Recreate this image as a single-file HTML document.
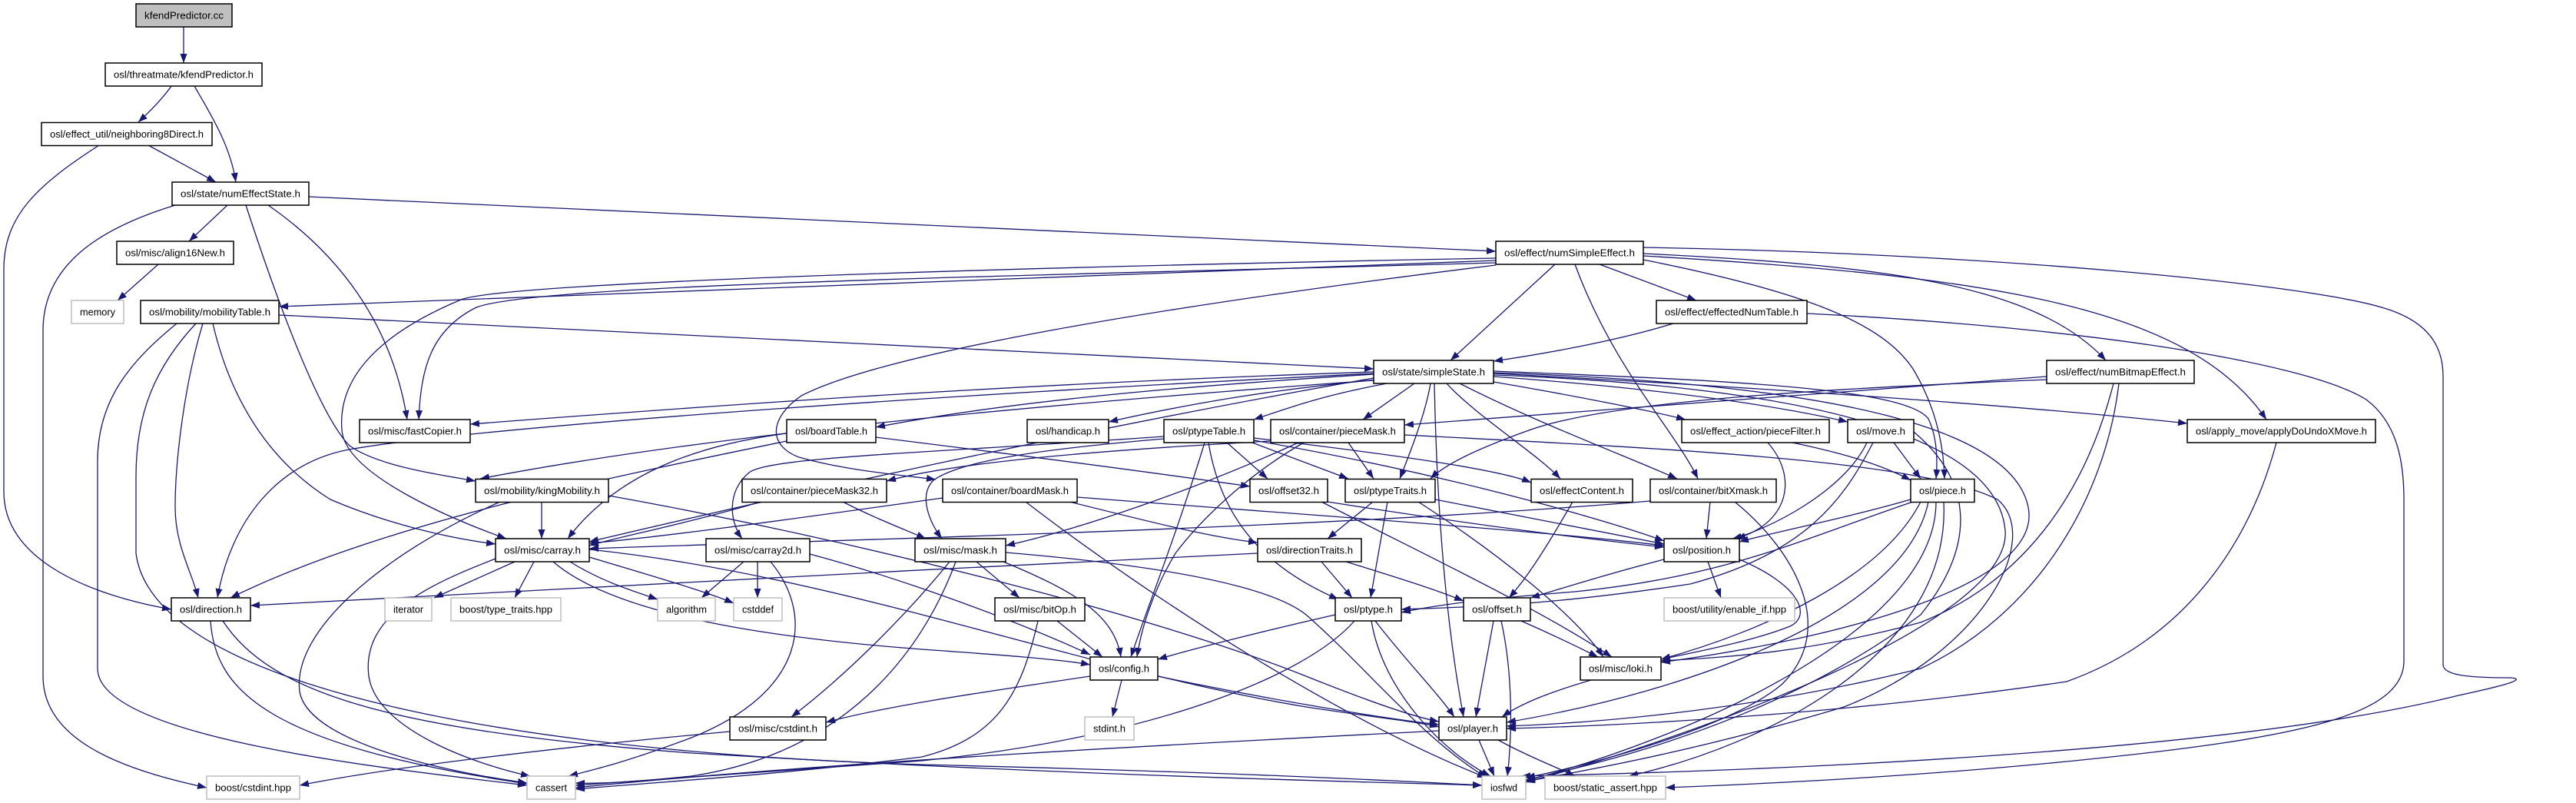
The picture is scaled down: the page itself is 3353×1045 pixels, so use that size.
<!DOCTYPE html>
<html><head><meta charset="utf-8"><style>
html,body{margin:0;padding:0;background:#fff;}
svg{display:block}
.e path{fill:none;stroke:#191970;stroke-width:1.3;marker-end:url(#a)}
.n rect{fill:#fff;stroke:#000;stroke-width:1.5}
.n rect.g{stroke:#bfbfbf}
.n rect.f{fill:#bfbfbf}
.n text{font-family:"Liberation Sans",Arial,sans-serif;font-size:13px;fill:#000;text-anchor:middle}
</style></head><body>
<svg width="3353" height="1045" viewBox="0 0 3353 1045" xmlns="http://www.w3.org/2000/svg">
<defs><marker id="a" viewBox="0 0 12 9" markerWidth="12" markerHeight="9" refX="12" refY="4.5" orient="auto" markerUnits="userSpaceOnUse"><path d="M0,0L12,4.5L0,9z" fill="#191970"/></marker></defs>
<rect width="3353" height="1045" fill="#fff"/>
<g class="e">
<path d="M239,35 L239,82"/>
<path d="M223,112 C212,128 195,145 180,159"/>
<path d="M253,112 C275,150 300,190 307,237"/>
<path d="M193,189 L281,237"/>
<path d="M129,189 C50,240 5,280 5,350 L5,640 C5,730 120,775 223,793"/>
<path d="M402,256 C900,280 1500,305 1947,327"/>
<path d="M296,267 L246,314"/>
<path d="M228,267 C120,300 56,350 56,430 L56,880 C56,960 150,1000 269,1025"/>
<path d="M349,267 C440,330 510,420 530,546"/>
<path d="M320,267 C370,420 420,545 455,580 C490,605 560,616 619,626"/>
<path d="M206,344 L153,391"/>
<path d="M1947,339 C1300,360 700,385 363,399"/>
<path d="M1947,342 C1300,360 700,370 620,400 C560,430 548,480 545,546"/>
<path d="M1947,336 C1200,350 650,370 600,390 C480,440 440,500 445,560 C450,620 600,680 659,701"/>
<path d="M1947,345 C1500,400 1150,460 1043,515 C1000,545 1000,580 1040,595 C1100,612 1170,618 1218,624"/>
<path d="M363,410 L1788,480"/>
<path d="M230,421 C170,470 127,520 127,600 L127,870 C127,960 500,1000 686,1022"/>
<path d="M255,421 C200,480 177,540 177,620 L177,720 C200,900 700,980 1200,995 C1600,1005 1800,1015 1929,1022"/>
<path d="M264,421 C240,500 228,600 228,660 C228,710 250,745 258,778"/>
<path d="M277,421 C300,520 350,600 430,650 C500,680 580,700 645,708"/>
<path d="M1788,484 C1300,500 900,530 612,552"/>
<path d="M1788,487 C1500,505 1300,525 1140,556"/>
<path d="M1792,494 C1650,508 1550,525 1443,549"/>
<path d="M1805,499 C1720,515 1680,530 1632,546"/>
<path d="M1841,499 L1774,546"/>
<path d="M1862,499 C1855,540 1835,590 1822,623"/>
<path d="M1867,499 C1870,650 1880,800 1905,933"/>
<path d="M1883,499 C1920,540 2000,590 2031,623"/>
<path d="M1900,499 C2000,550 2120,595 2183,623"/>
<path d="M1944,497 C2050,515 2150,535 2194,546"/>
<path d="M1944,490 C2150,505 2300,525 2405,549"/>
<path d="M1944,486 C2400,510 2700,535 2847,551"/>
<path d="M1944,483 C2250,495 2480,505 2510,545 C2522,570 2522,600 2520,623"/>
<path d="M1944,485 C2400,500 2620,560 2640,660 C2660,760 2400,830 2162,862"/>
<path d="M1944,488 C2400,505 2600,580 2610,690 C2620,810 2200,960 1986,1018"/>
<path d="M1788,492 C1400,560 1000,650 767,705"/>
<path d="M1788,486 C1100,520 600,560 460,584 C360,600 300,680 283,778"/>
<path d="M1788,495 C1300,530 900,570 625,623"/>
<path d="M2024,344 L1888,469"/>
<path d="M2082,344 L2208,391"/>
<path d="M2050,344 C2100,480 2180,560 2210,623"/>
<path d="M2139,330 C2450,345 2650,370 2741,469"/>
<path d="M2139,333 C2600,360 2850,400 2950,546"/>
<path d="M2139,322 C2600,330 3000,370 3100,400 C3170,420 3180,460 3180,490 L3180,865 C3180,880 3220,882 3268,882 C3290,884 3260,892 3200,905 C2900,980 2300,1003 1980,1010"/>
<path d="M2139,338 C2350,380 2450,420 2490,480 C2520,530 2530,580 2531,623"/>
<path d="M2178,421 C2100,445 2000,462 1944,470"/>
<path d="M2352,408 C2700,425 3000,470 3080,520 C3120,550 3129,600 3129,650 L3129,860 C3129,930 3000,960 2700,990 C2500,1010 2300,1020 2168,1025"/>
<path d="M2664,490 C2300,520 2000,540 1828,553"/>
<path d="M2664,494 C2400,505 2100,520 1990,560 C1920,585 1880,605 1862,623"/>
<path d="M2751,499 C2720,620 2650,750 2500,810 C2350,850 2250,855 2162,860"/>
<path d="M2758,499 C2740,650 2650,800 2500,870 C2300,920 2100,940 1961,945"/>
<path d="M2963,576 C2930,700 2850,830 2690,887 C2400,930 2100,945 1961,948"/>
<path d="M2333,576 C2400,590 2450,605 2487,625"/>
<path d="M2301,576 C2340,620 2330,680 2260,701"/>
<path d="M2465,576 L2500,623"/>
<path d="M2430,576 C2400,640 2300,690 2255,701"/>
<path d="M2438,576 C2400,650 2350,720 2200,760 C2000,790 1900,790 1824,793"/>
<path d="M2491,562 C2560,620 2580,700 2500,800 C2300,950 2050,1000 1986,1015"/>
<path d="M2487,650 C2400,675 2320,690 2264,705"/>
<path d="M2490,653 C2350,700 2250,750 2050,770 C1950,778 1880,785 1824,797"/>
<path d="M2500,653 C2450,750 2300,820 2162,858"/>
<path d="M2510,653 C2480,800 2200,900 1961,940"/>
<path d="M2520,653 C2520,820 2200,960 1986,1016"/>
<path d="M2530,653 C2540,850 2300,970 2120,1010"/>
<path d="M2226,653 L2221,701"/>
<path d="M2258,653 C2340,720 2390,820 2320,890 C2250,950 2050,1000 1986,1012"/>
<path d="M2148,652 C1700,690 1000,705 767,714"/>
<path d="M2047,653 C2020,700 1990,750 1964,778"/>
<path d="M1787,653 L1728,701"/>
<path d="M1806,653 L1784,778"/>
<path d="M1846,653 C1950,720 2050,800 2087,855"/>
<path d="M1868,650 C2000,675 2100,695 2166,708"/>
<path d="M1728,653 C1900,680 2050,700 2166,712"/>
<path d="M1720,653 C1850,720 2000,790 2098,855"/>
<path d="M1720,731 L1760,778"/>
<path d="M1752,731 C1830,755 1870,768 1905,782"/>
<path d="M1637,720 C1200,740 700,770 326,788"/>
<path d="M2166,728 C2080,750 2020,770 1992,778"/>
<path d="M2223,731 L2240,778"/>
<path d="M2264,728 C2340,760 2360,800 2330,815 C2280,835 2200,850 2162,858"/>
<path d="M1738,800 C1650,820 1550,845 1507,858"/>
<path d="M1763,808 C1700,880 1500,960 1200,990 C1000,1005 850,1015 749,1022"/>
<path d="M1785,808 C1800,900 1880,980 1940,1010"/>
<path d="M1790,808 C1830,860 1870,900 1893,933"/>
<path d="M1944,808 L1921,933"/>
<path d="M1954,808 C1970,880 1968,960 1962,1010"/>
<path d="M1980,808 C2030,830 2060,845 2080,855"/>
<path d="M2071,885 C2020,900 1980,915 1955,933"/>
<path d="M1873,951 C1600,965 1100,990 749,1025"/>
<path d="M1925,963 L1945,1010"/>
<path d="M1950,963 C1990,985 2030,1000 2050,1010"/>
<path d="M1419,880 C1250,905 1150,920 1075,940"/>
<path d="M1460,885 L1448,933"/>
<path d="M1507,880 C1650,910 1800,935 1873,943"/>
<path d="M950,952 C700,975 500,1000 390,1022"/>
<path d="M1376,808 L1435,855"/>
<path d="M1351,808 C1330,900 1300,960 1200,985 C1000,1010 850,1018 749,1027"/>
<path d="M1271,731 L1327,778"/>
<path d="M1306,731 C1400,770 1450,800 1459,855"/>
<path d="M1236,731 C1180,800 1100,880 1030,933"/>
<path d="M1244,731 C1200,850 1100,980 900,1010 C820,1018 780,1020 749,1019"/>
<path d="M1309,719 C1500,735 1650,760 1700,800 C1780,870 1850,960 1935,1012"/>
<path d="M968,731 L913,778"/>
<path d="M986,731 L986,778"/>
<path d="M1003,731 C1060,800 1050,900 900,960 C820,990 780,1000 740,1010"/>
<path d="M1054,721 C1200,760 1350,820 1419,852"/>
<path d="M670,731 L565,778"/>
<path d="M695,731 L670,778"/>
<path d="M742,731 C780,755 820,768 856,780"/>
<path d="M767,725 C850,750 920,770 955,785"/>
<path d="M720,731 C800,800 1000,830 1200,845 C1300,852 1380,858 1419,865"/>
<path d="M645,727 C560,760 470,800 480,880 C490,950 620,995 690,1010"/>
<path d="M767,715 C1100,750 1400,870 1700,920 C1800,935 1850,940 1873,946"/>
<path d="M705,653 L705,701"/>
<path d="M651,653 C500,720 380,820 390,900 C400,960 550,1000 686,1019"/>
<path d="M792,645 C1100,700 1500,800 1700,880 C1800,920 1850,935 1873,939"/>
<path d="M990,653 C900,680 800,700 767,710"/>
<path d="M1097,653 C1140,675 1180,690 1205,701"/>
<path d="M1227,648 C1000,680 850,700 767,707"/>
<path d="M1392,653 C1500,680 1580,700 1637,706"/>
<path d="M1402,647 C1700,670 2000,690 2166,710"/>
<path d="M1335,653 C1500,780 1750,940 1935,1012"/>
<path d="M1140,569 C1350,595 1500,615 1627,633"/>
<path d="M1024,564 C900,580 800,620 739,701"/>
<path d="M1024,574 C800,620 500,680 300,778"/>
<path d="M1597,576 L1650,623"/>
<path d="M1630,576 C1680,595 1720,610 1755,623"/>
<path d="M1568,576 C1530,700 1490,800 1472,855"/>
<path d="M1573,576 C1590,680 1650,740 1742,780"/>
<path d="M1515,568 C1200,590 1000,595 975,615 C945,640 950,680 966,701"/>
<path d="M1515,571 C1350,585 1250,600 1215,625 C1195,645 1210,680 1226,701"/>
<path d="M1632,570 C1800,590 1950,610 1993,628"/>
<path d="M1632,573 C1900,620 2100,680 2166,704"/>
<path d="M1654,574 C1450,585 1250,600 1154,626"/>
<path d="M1755,576 L1788,623"/>
<path d="M1690,576 C1550,640 1400,690 1309,710"/>
<path d="M1697,576 C1620,620 1560,680 1530,720 C1500,770 1485,820 1480,855"/>
<path d="M1828,566 C2200,585 2500,600 2600,650 C2660,700 2580,850 2400,920 C2200,980 2050,1005 1986,1017"/>
<path d="M274,808 C280,900 350,970 686,1020"/>
<path d="M290,808 C350,900 500,950 900,980 C1400,1010 1800,1018 1929,1022"/>
</g>
<g class="n">
<rect class="f" x="177" y="5" width="125" height="30"/><text x="239.5" y="24.5" textLength="103" lengthAdjust="spacingAndGlyphs">kfendPredictor.cc</text>
<rect x="137" y="82" width="204" height="30"/><text x="239" y="101.5" textLength="182" lengthAdjust="spacingAndGlyphs">osl/threatmate/kfendPredictor.h</text>
<rect x="54" y="159.5" width="222" height="30"/><text x="165" y="179" textLength="200" lengthAdjust="spacingAndGlyphs">osl/effect_util/neighboring8Direct.h</text>
<rect x="224" y="237" width="178" height="30"/><text x="313" y="256.5" textLength="156" lengthAdjust="spacingAndGlyphs">osl/state/numEffectState.h</text>
<rect x="152" y="314" width="152" height="30"/><text x="228" y="333.5" textLength="130" lengthAdjust="spacingAndGlyphs">osl/misc/align16New.h</text>
<rect x="1947" y="314" width="192" height="30"/><text x="2043" y="333.5" textLength="170" lengthAdjust="spacingAndGlyphs">osl/effect/numSimpleEffect.h</text>
<rect class="g" x="93" y="391" width="68" height="30"/><text x="127" y="410.5" textLength="46" lengthAdjust="spacingAndGlyphs">memory</text>
<rect x="183" y="391" width="180" height="30"/><text x="273" y="410.5" textLength="158" lengthAdjust="spacingAndGlyphs">osl/mobility/mobilityTable.h</text>
<rect x="2156" y="391" width="196" height="30"/><text x="2254" y="410.5" textLength="174" lengthAdjust="spacingAndGlyphs">osl/effect/effectedNumTable.h</text>
<rect x="1788" y="469" width="156" height="30"/><text x="1866" y="488.5" textLength="134" lengthAdjust="spacingAndGlyphs">osl/state/simpleState.h</text>
<rect x="2664" y="469" width="192" height="30"/><text x="2760" y="488.5" textLength="170" lengthAdjust="spacingAndGlyphs">osl/effect/numBitmapEffect.h</text>
<rect x="468" y="546" width="144" height="30"/><text x="540" y="565.5" textLength="122" lengthAdjust="spacingAndGlyphs">osl/misc/fastCopier.h</text>
<rect x="1024" y="546" width="116" height="30"/><text x="1082" y="565.5" textLength="94" lengthAdjust="spacingAndGlyphs">osl/boardTable.h</text>
<rect x="1337" y="546" width="106" height="30"/><text x="1390" y="565.5" textLength="84" lengthAdjust="spacingAndGlyphs">osl/handicap.h</text>
<rect x="1515" y="546" width="117" height="30"/><text x="1573.5" y="565.5" textLength="95" lengthAdjust="spacingAndGlyphs">osl/ptypeTable.h</text>
<rect x="1654" y="546" width="174" height="30"/><text x="1741" y="565.5" textLength="152" lengthAdjust="spacingAndGlyphs">osl/container/pieceMask.h</text>
<rect x="2189" y="546" width="192" height="30"/><text x="2285" y="565.5" textLength="170" lengthAdjust="spacingAndGlyphs">osl/effect_action/pieceFilter.h</text>
<rect x="2405" y="546" width="86" height="30"/><text x="2448" y="565.5" textLength="64" lengthAdjust="spacingAndGlyphs">osl/move.h</text>
<rect x="2847" y="546" width="245" height="30"/><text x="2969.5" y="565.5" textLength="223" lengthAdjust="spacingAndGlyphs">osl/apply_move/applyDoUndoXMove.h</text>
<rect x="619" y="623.5" width="173" height="30"/><text x="705.5" y="643" textLength="151" lengthAdjust="spacingAndGlyphs">osl/mobility/kingMobility.h</text>
<rect x="966" y="623.5" width="188" height="30"/><text x="1060" y="643" textLength="166" lengthAdjust="spacingAndGlyphs">osl/container/pieceMask32.h</text>
<rect x="1227" y="623.5" width="175" height="30"/><text x="1314.5" y="643" textLength="153" lengthAdjust="spacingAndGlyphs">osl/container/boardMask.h</text>
<rect x="1627" y="623.5" width="101" height="30"/><text x="1677.5" y="643" textLength="79" lengthAdjust="spacingAndGlyphs">osl/offset32.h</text>
<rect x="1751" y="623.5" width="117" height="30"/><text x="1809.5" y="643" textLength="95" lengthAdjust="spacingAndGlyphs">osl/ptypeTraits.h</text>
<rect x="1993" y="623.5" width="132" height="30"/><text x="2059" y="643" textLength="110" lengthAdjust="spacingAndGlyphs">osl/effectContent.h</text>
<rect x="2148" y="623.5" width="164" height="30"/><text x="2230" y="643" textLength="142" lengthAdjust="spacingAndGlyphs">osl/container/bitXmask.h</text>
<rect x="2487" y="623.5" width="83" height="30"/><text x="2528.5" y="643" textLength="61" lengthAdjust="spacingAndGlyphs">osl/piece.h</text>
<rect x="645" y="701" width="122" height="30"/><text x="706" y="720.5" textLength="100" lengthAdjust="spacingAndGlyphs">osl/misc/carray.h</text>
<rect x="919" y="701" width="135" height="30"/><text x="986.5" y="720.5" textLength="113" lengthAdjust="spacingAndGlyphs">osl/misc/carray2d.h</text>
<rect x="1191" y="701" width="118" height="30"/><text x="1250" y="720.5" textLength="96" lengthAdjust="spacingAndGlyphs">osl/misc/mask.h</text>
<rect x="1637" y="701" width="135" height="30"/><text x="1704.5" y="720.5" textLength="113" lengthAdjust="spacingAndGlyphs">osl/directionTraits.h</text>
<rect x="2166" y="701" width="98" height="30"/><text x="2215" y="720.5" textLength="76" lengthAdjust="spacingAndGlyphs">osl/position.h</text>
<rect x="223" y="778" width="103" height="30"/><text x="274.5" y="797.5" textLength="81" lengthAdjust="spacingAndGlyphs">osl/direction.h</text>
<rect class="g" x="501" y="778" width="61" height="30"/><text x="531.5" y="797.5" textLength="39" lengthAdjust="spacingAndGlyphs">iterator</text>
<rect class="g" x="587" y="778" width="143" height="30"/><text x="658.5" y="797.5" textLength="121" lengthAdjust="spacingAndGlyphs">boost/type_traits.hpp</text>
<rect class="g" x="856" y="778" width="75" height="30"/><text x="893.5" y="797.5" textLength="53" lengthAdjust="spacingAndGlyphs">algorithm</text>
<rect class="g" x="955" y="778" width="63" height="30"/><text x="986.5" y="797.5" textLength="41" lengthAdjust="spacingAndGlyphs">cstddef</text>
<rect x="1295" y="778" width="117" height="30"/><text x="1353.5" y="797.5" textLength="95" lengthAdjust="spacingAndGlyphs">osl/misc/bitOp.h</text>
<rect x="1738" y="778" width="86" height="30"/><text x="1781" y="797.5" textLength="64" lengthAdjust="spacingAndGlyphs">osl/ptype.h</text>
<rect x="1905" y="778" width="87" height="30"/><text x="1948.5" y="797.5" textLength="65" lengthAdjust="spacingAndGlyphs">osl/offset.h</text>
<rect class="g" x="2166" y="778" width="170" height="30"/><text x="2251" y="797.5" textLength="148" lengthAdjust="spacingAndGlyphs">boost/utility/enable_if.hpp</text>
<rect x="1419" y="855" width="88" height="30"/><text x="1463" y="874.5" textLength="66" lengthAdjust="spacingAndGlyphs">osl/config.h</text>
<rect x="2057" y="855" width="105" height="30"/><text x="2109.5" y="874.5" textLength="83" lengthAdjust="spacingAndGlyphs">osl/misc/loki.h</text>
<rect x="950" y="933" width="125" height="30"/><text x="1012.5" y="952.5" textLength="103" lengthAdjust="spacingAndGlyphs">osl/misc/cstdint.h</text>
<rect class="g" x="1412" y="933" width="64" height="30"/><text x="1444" y="952.5" textLength="42" lengthAdjust="spacingAndGlyphs">stdint.h</text>
<rect x="1873" y="933" width="88" height="30"/><text x="1917" y="952.5" textLength="66" lengthAdjust="spacingAndGlyphs">osl/player.h</text>
<rect class="g" x="269" y="1010" width="121" height="30"/><text x="329.5" y="1029.5" textLength="99" lengthAdjust="spacingAndGlyphs">boost/cstdint.hpp</text>
<rect class="g" x="686" y="1010" width="63" height="30"/><text x="717.5" y="1029.5" textLength="41" lengthAdjust="spacingAndGlyphs">cassert</text>
<rect class="g" x="1929" y="1010" width="57" height="30"/><text x="1957.5" y="1029.5" textLength="35" lengthAdjust="spacingAndGlyphs">iosfwd</text>
<rect class="g" x="2011" y="1010" width="157" height="30"/><text x="2089.5" y="1029.5" textLength="135" lengthAdjust="spacingAndGlyphs">boost/static_assert.hpp</text>
</g>
</svg>
</body></html>
